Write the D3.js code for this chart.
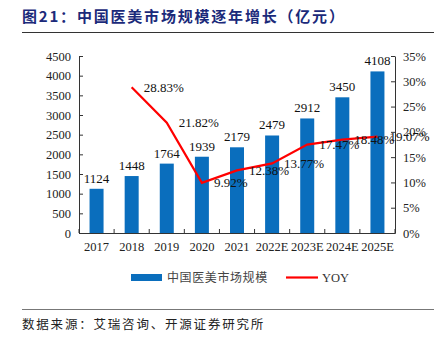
<!DOCTYPE html>
<html><head><meta charset="utf-8">
<script src="https://cdn.jsdelivr.net/npm/d3@7"></script>
<style>body{margin:0;background:#fff}svg{display:block}</style>
</head><body><svg id="c" width="444" height="343"></svg>
<script>
const categories = ["2017","2018","2019","2020","2021","2022E","2023E","2024E","2025E"];
const marketSize = [1124,1448,1764,1939,2179,2479,2912,3450,4108];
const yoy = [null,28.83,21.82,9.92,12.38,13.77,17.47,18.48,19.07];
const leftTicks = [0,500,1000,1500,2000,2500,3000,3500,4000,4500];
const rightTicks = [0,5,10,15,20,25,30,35];
const titleText = "图21：中国医美市场规模逐年增长（亿元）";
const sourceText = "数据来源：艾瑞咨询、开源证券研究所";
const legendNames = ["中国医美市场规模","YOY"];

const svg = d3.select("#c");
const serif = "'Liberation Serif','Times New Roman',serif";
const cjk = "'Noto Sans CJK SC','Noto Sans',sans-serif";
const L=79, R=395, T=56, B=233;

const xb = d3.scaleBand().domain(categories).range([L,R]);
const yL = d3.scaleLinear().domain([0,4500]).range([B,T]);
const yR = d3.scaleLinear().domain([0,35]).range([B,T]);

// title
svg.append("text").attr("x",22).attr("y",22).attr("font-family",cjk).attr("font-weight","bold")
  .attr("font-size",15).attr("letter-spacing",1.8).attr("fill","#1b2a7a").text(titleText);
svg.append("line").attr("x1",22).attr("x2",434).attr("y1",32.5).attr("y2",32.5).attr("stroke","#333").attr("stroke-width",1);

// bars
svg.selectAll("rect.bar").data(marketSize).join("rect").attr("class","bar")
  .attr("x",(d,i)=>xb(categories[i])+xb.bandwidth()/2-7).attr("width",14)
  .attr("y",d=>yL(d)).attr("height",d=>B-yL(d)).attr("fill","#0a6ebd");

// axes
const axL = d3.axisLeft(yL).tickValues(leftTicks).tickFormat(d3.format("d")).tickSizeInner(-4).tickSizeOuter(0).tickPadding(8);
const gL = svg.append("g").attr("transform",`translate(${L},0)`).call(axL);
const axR = d3.axisRight(yR).tickValues(rightTicks).tickFormat(d=>d+"%").tickSizeInner(-4).tickSizeOuter(0).tickPadding(8);
const gR = svg.append("g").attr("transform",`translate(${R},0)`).call(axR);
const axB = d3.axisBottom(xb).tickSize(0).tickPadding(9);
const gB = svg.append("g").attr("transform",`translate(0,${B})`).call(axB);
// category boundary ticks
const bounds = categories.map(c=>xb(c)).concat([R]);
svg.selectAll("line.bt").data(bounds).join("line").attr("class","bt")
  .attr("x1",d=>d).attr("x2",d=>d).attr("y1",B).attr("y2",B-4).attr("stroke","#333");
[gL,gR,gB].forEach(g=>{
  g.selectAll("path").attr("stroke","#333");
  g.selectAll("line").attr("stroke","#333");
  g.selectAll("text").attr("font-family",serif).attr("font-size",12.5).attr("fill","#222");
});

// line
const pts = yoy.map((v,i)=>({v,c:categories[i]})).filter(d=>d.v!==null);
const line = d3.line().x(d=>xb(d.c)+xb.bandwidth()/2).y(d=>yR(d.v));
svg.append("path").datum(pts).attr("d",line).attr("fill","none").attr("stroke","#ff0000").attr("stroke-width",2.2);

// bar labels
svg.selectAll("text.bl").data(marketSize).join("text").attr("class","bl")
  .attr("x",(d,i)=>xb(categories[i])+xb.bandwidth()/2).attr("y",d=>yL(d)-6)
  .attr("text-anchor","middle").attr("font-family",serif).attr("font-size",13).attr("fill","#111").text(d=>d);

// yoy labels
svg.selectAll("text.yl").data(pts).join("text").attr("class","yl")
  .attr("x",d=>xb(d.c)+xb.bandwidth()/2+12).attr("y",d=>yR(d.v)+4.5)
  .attr("font-family",serif).attr("font-size",13).attr("fill","#111").text(d=>d.v.toFixed(2)+"%");

// legend
svg.append("rect").attr("x",131).attr("y",274).attr("width",31).attr("height",7).attr("fill","#0a6ebd");
svg.append("text").attr("x",167).attr("y",282).attr("font-family",cjk).attr("font-size",12).attr("letter-spacing",0.6).attr("fill","#444").text(legendNames[0]);
svg.append("line").attr("x1",286).attr("x2",318).attr("y1",277.5).attr("y2",277.5).attr("stroke","#ff0000").attr("stroke-width",2.2);
svg.append("text").attr("x",322).attr("y",282).attr("font-family",serif).attr("font-size",12.5).attr("fill","#333").text(legendNames[1]);

// footer
svg.append("line").attr("x1",22).attr("x2",434).attr("y1",309.5).attr("y2",309.5).attr("stroke","#777").attr("stroke-width",1);
svg.append("text").attr("x",22).attr("y",329).attr("font-family",cjk).attr("font-size",12.5).attr("letter-spacing",1.8).attr("fill","#222").text(sourceText);
</script></body></html>
